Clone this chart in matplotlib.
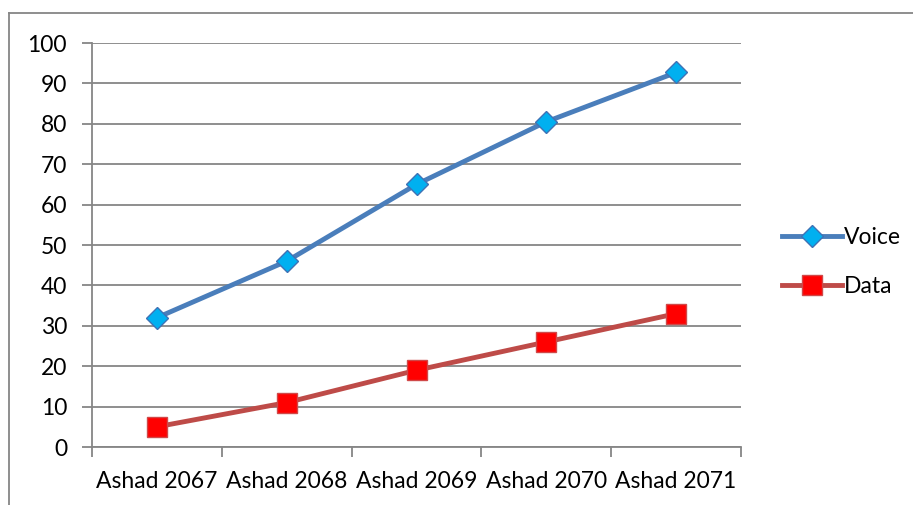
import matplotlib.pyplot as plt
from matplotlib.lines import Line2D

categories = ["Ashad 2067", "Ashad 2068", "Ashad 2069", "Ashad 2070", "Ashad 2071"]
voice = [32, 46, 65, 80.5, 92.7]
data = [5, 11, 19, 26, 33]
y_ticks = list(range(0, 101, 10))

W, H = 913, 505
plt.rcParams["font.family"] = ["Lato", "DejaVu Sans"]
fig = plt.figure(figsize=(W / 100, H / 100), dpi=100)
ax = fig.add_axes([92 / W, 1 - 447 / H, (741 - 92) / W, (447 - 43) / H])

x = [i + 0.5 for i in range(len(categories))]
ax.plot(x, voice, color="#4a7ebb", lw=3.5, marker="D", ms=11,
        mfc="#00b0f0", mec="#3f72b5", mew=1, label="Voice", zorder=3)
ax.plot(x, data, color="#be4b48", lw=3.5, marker="s", ms=14.5,
        mfc="#ff0000", mec="#d04848", mew=1, label="Data", zorder=3)

ax.set_xlim(0, len(categories))
ax.set_ylim(0, 100)
ax.set_yticks(y_ticks)
ax.set_xticks(range(len(categories) + 1))
ax.set_xticklabels([])
ax.set_xticks(x, minor=True)
ax.set_xticklabels(categories, minor=True)
ax.tick_params(axis="x", which="minor", length=0, pad=17, labelsize=16.5)
ax.tick_params(axis="x", which="major", length=7, width=1.3, color="#868686")
ax.tick_params(axis="y", length=7, width=1.3, color="#868686", labelsize=16.5, pad=11)

ax.grid(axis="y", color="#868686", lw=1.3)
ax.set_axisbelow(True)
for side in ["top", "right"]:
    ax.spines[side].set_visible(False)
for side in ["left", "bottom"]:
    ax.spines[side].set_color("#868686")
    ax.spines[side].set_linewidth(1.3)

ax.legend(loc="center left", bbox_to_anchor=(1.032, 0.458), frameon=False,
          fontsize=16.5, handlelength=2.6, labelspacing=1.2, handletextpad=0.1)

# outer chart border (only top and left visible in the crop)
fig.add_artist(Line2D([9 / W, 9 / W], [0, 1 - 13 / H], color="#868686", lw=1.3))
fig.add_artist(Line2D([9 / W, 1], [1 - 13 / H, 1 - 13 / H], color="#868686", lw=1.3))

fig.savefig("out.png", dpi=100)
